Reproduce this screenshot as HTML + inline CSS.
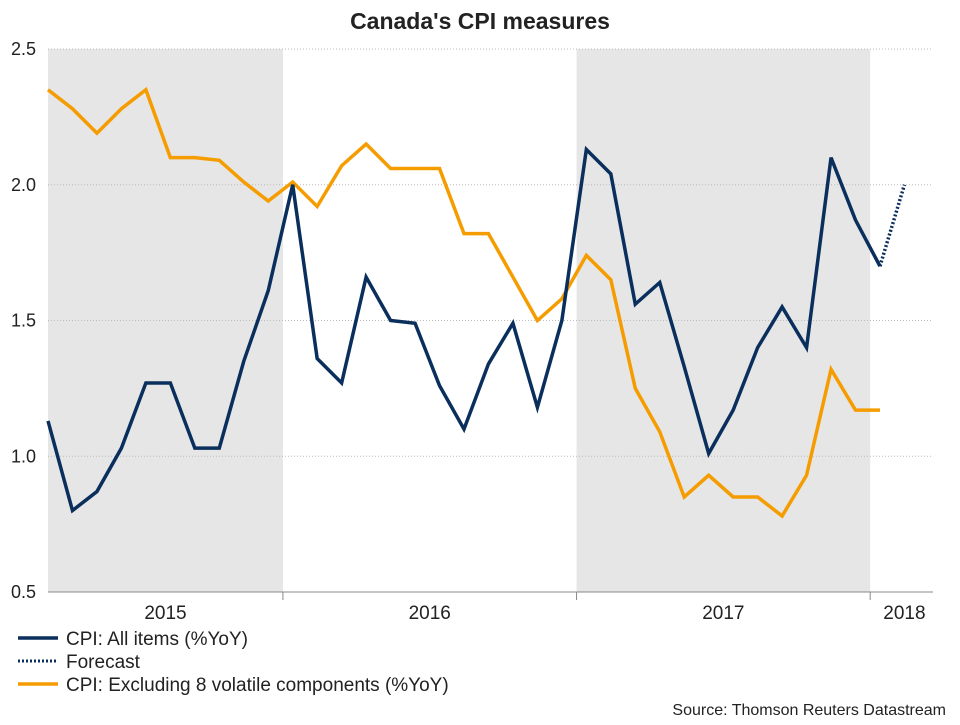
<!DOCTYPE html>
<html><head><meta charset="utf-8"><style>
body{margin:0;background:#fff;font-family:"Liberation Sans",Arial,sans-serif;}
svg text{font-family:"Liberation Sans",Arial,sans-serif;}
</style></head><body>
<svg id="chart" width="960" height="720">
<text x="480" y="29" text-anchor="middle" font-size="23" font-weight="bold" fill="#222">Canada's CPI measures</text>
<g id="shade"></g><g id="grid"></g><g id="axes"></g><g id="series"></g>
<g>
<line x1="18" y1="638" x2="58" y2="638" stroke="#0a2f5c" stroke-width="3.5"/>
<text x="66" y="645" font-size="19" fill="#222">CPI: All items (%YoY)</text>
<line x1="18" y1="661" x2="58" y2="661" stroke="#0a2f5c" stroke-width="3" stroke-dasharray="2,2"/>
<text x="66" y="668" font-size="19" fill="#222">Forecast</text>
<line x1="18" y1="684" x2="58" y2="684" stroke="#f59c00" stroke-width="3.5"/>
<text x="66" y="691" font-size="19" fill="#222">CPI: Excluding 8 volatile components (%YoY)</text>
</g>
<text x="946" y="715" text-anchor="end" font-size="16" fill="#222">Source: Thomson Reuters Datastream</text>
</svg>
<script>
const cpiAll=[1.13,0.80,0.87,1.03,1.27,1.27,1.03,1.03,1.35,1.61,2.0,1.36,1.27,1.66,1.50,1.49,1.26,1.10,1.34,1.49,1.18,1.50,2.13,2.04,1.56,1.64,1.33,1.01,1.17,1.40,1.55,1.40,2.10,1.87,1.70];
const forecast=[1.70,2.0];
const cpiEx8=[2.35,2.28,2.19,2.28,2.35,2.10,2.10,2.09,2.01,1.94,2.01,1.92,2.07,2.15,2.06,2.06,2.06,1.82,1.82,1.66,1.50,1.58,1.74,1.65,1.25,1.09,0.85,0.93,0.85,0.85,0.78,0.93,1.32,1.17,1.17];
const yTicks=[0.5,1.0,1.5,2.0,2.5];
const yearLabels=["2015","2016","2017","2018"];
const yearMid=[4.8,15.6,27.6,35];
const shadeRanges=[[-0.5,9.6],[21.6,33.6]];
const yearTicks=[9.6,21.6,33.6];
const NS="http://www.w3.org/2000/svg";
const X0=48,X1=933,Y0=592,Y1=49;
const x=i=>48+i*24.47;
const y=v=>Y0-(v-0.5)/2.0*(Y0-Y1);
function mk(tag,attrs,parent){const e=document.createElementNS(NS,tag);for(const k in attrs)e.setAttribute(k,attrs[k]);parent.appendChild(e);return e;}
const shade=document.getElementById('shade'),grid=document.getElementById('grid'),axes=document.getElementById('axes'),series=document.getElementById('series');
shadeRanges.forEach(r=>{const a=Math.max(X0,x(r[0])),b=x(r[1]);
const e=mk('rect',{x:a,y:Y1,width:b-a,height:Y0-Y1,fill:'#e6e6e6'},shade);

});
yTicks.forEach(v=>{
if(v>0.5){const l=mk('line',{x1:X0,x2:X1,y1:y(v),y2:y(v),stroke:'#bbb','stroke-dasharray':'1,2'},grid);

}
const t=mk('text',{x:36,y:y(v)+6,'text-anchor':'end','font-size':18,fill:'#222'},axes);t.textContent=v.toFixed(1);

});
const ax=mk('line',{x1:X0,x2:X1,y1:Y0,y2:Y0,stroke:'#888'},axes);


yearTicks.forEach(i=>{const l=mk('line',{x1:x(i),x2:x(i),y1:Y0,y2:Y0+8,stroke:'#888'},axes);

});
yearLabels.forEach((s,k)=>{const t=mk('text',{x:x(yearMid[k]),y:619,'text-anchor':'middle','font-size':19,fill:'#222'},axes);t.textContent=s;

});
function line(arr,off,color,dash,name){const p=mk('polyline',{points:arr.map((v,i)=>x(i+off)+','+y(v)).join(' '),fill:'none',stroke:color,'stroke-width':3.5,'stroke-linejoin':'miter'},series);
if(dash)p.setAttribute('stroke-dasharray',dash);

}
line(cpiEx8,0,'#f59c00',null,'cpi-ex8-line');
line(cpiAll,0,'#0a2f5c',null,'cpi-all-line');
line(forecast,cpiAll.length-1,'#0a2f5c','2,2','forecast-line');
</script>
</body></html>
